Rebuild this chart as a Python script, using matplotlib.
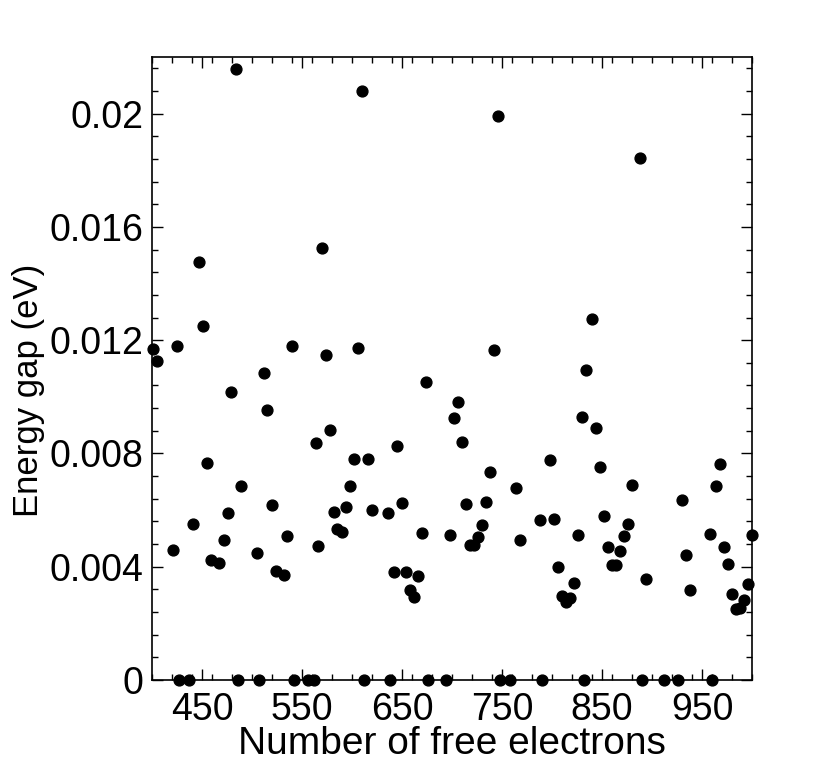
import matplotlib
matplotlib.use("Agg")
import matplotlib.pyplot as plt
from matplotlib.ticker import MultipleLocator, FixedLocator

electrons = [401, 405, 421, 425, 427, 437, 441, 447, 451, 455, 459, 467, 472, 476, 479, 484, 486, 489,
             505, 507, 512, 515, 520, 524, 532, 535, 540, 542, 556, 562, 564, 566, 570, 574, 578, 582,
             585, 590, 594, 598, 602, 606, 610, 612, 616, 620, 636, 638, 642, 645, 650, 654, 658, 662,
             666, 670, 674, 676, 694, 698, 702, 706, 710, 714, 718, 722, 726, 730, 734, 738, 742, 746,
             748, 758, 764, 768, 788, 790, 798, 802, 806, 810, 814, 818, 822, 826, 830, 832, 834, 840,
             844, 848, 852, 856, 860, 864, 868, 872, 876, 880, 888, 890, 894, 912, 926, 930, 934, 938,
             958, 960, 964, 968, 972, 976, 980, 984, 988, 992, 996, 1000]
gap = [0.01169, 0.01125, 0.00459, 0.01178, 0.0, 0.0, 0.00551, 0.01477, 0.01249, 0.00766, 0.00424,
       0.00414, 0.00494, 0.00588, 0.01017, 0.02156, 0.0, 0.00684,
       0.00448, 0.0, 0.01083, 0.00952, 0.00619, 0.00386, 0.00371, 0.00507, 0.01180, 0.0, 0.0, 0.0,
       0.00836, 0.00473, 0.01524, 0.01149, 0.00882, 0.00593,
       0.00534, 0.00521, 0.00611, 0.00685, 0.00781, 0.01172, 0.02079, 0.0, 0.00781, 0.00599, 0.00591,
       0.0, 0.00381, 0.00825, 0.00624, 0.00381, 0.00319, 0.00294,
       0.00367, 0.00520, 0.01053, 0.0, 0.0, 0.00511, 0.00924, 0.00981, 0.00841, 0.00621, 0.00478,
       0.00478, 0.00506, 0.00548, 0.00630, 0.00735, 0.01167, 0.01992,
       0.0, 0.0, 0.00679, 0.00495, 0.00566, 0.0, 0.00777, 0.00570, 0.00400, 0.00298, 0.00274, 0.00288,
       0.00344, 0.00512, 0.00929, 0.0, 0.01096, 0.01275,
       0.00891, 0.00751, 0.00580, 0.00470, 0.00406, 0.00406, 0.00457, 0.00508, 0.00552, 0.00690,
       0.01845, 0.0, 0.00358, 0.0, 0.0, 0.00637, 0.00440, 0.00318,
       0.00514, 0.0, 0.00685, 0.00761, 0.00471, 0.00411, 0.00304, 0.00252, 0.00253, 0.00281, 0.00340,
       0.00511]

xticks = [450, 550, 650, 750, 850, 950]
yticks = [0, 0.004, 0.008, 0.012, 0.016, 0.02]
ytick_labels = ["0", "0.004", "0.008", "0.012", "0.016", "0.02"]

plt.rcParams['font.family'] = ['Liberation Sans', 'DejaVu Sans']

fig = plt.figure(figsize=(8.30, 7.65), dpi=100)
ax = fig.add_axes([152/830, 85/765, 600/830, 623/765])

ax.plot(electrons, gap, 'o', color='black', markersize=7.8, clip_on=False, zorder=3)

ax.set_xlim(400, 1000)
ax.set_ylim(0, 0.022)
ax.xaxis.set_major_locator(FixedLocator(xticks))
ax.xaxis.set_minor_locator(MultipleLocator(20))
ax.yaxis.set_major_locator(FixedLocator(yticks))
ax.yaxis.set_minor_locator(MultipleLocator(0.0008))
ax.set_yticklabels(ytick_labels)

ax.tick_params(which='both', direction='in', top=True, right=True, labelsize=27, width=1)
ax.tick_params(axis='x', which='major', length=8, pad=9)
ax.tick_params(axis='y', which='major', length=8, pad=6)
ax.tick_params(which='minor', length=4)
for s in ax.spines.values():
    s.set_linewidth(1.2)

ax.set_xlabel("Number of free electrons", fontsize=28)
ax.xaxis.set_label_coords(0.5, -0.074)
ax.set_ylabel("Energy gap (eV)", fontsize=25)
ax.yaxis.set_label_coords(-0.178, 0.465)

fig.savefig("out.png", dpi=100)
